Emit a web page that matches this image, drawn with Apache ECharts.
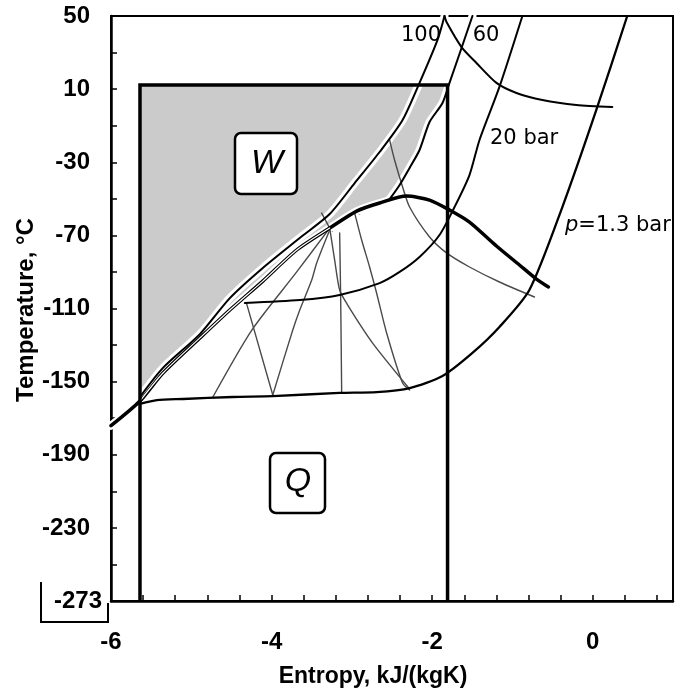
<!DOCTYPE html>
<html><head><meta charset="utf-8">
<script src="https://cdn.jsdelivr.net/npm/echarts@6/dist/echarts.min.js"></script>
<style>html,body{margin:0;padding:0;background:#fff}#c{width:675px;height:695px}</style>
</head><body><div id="c"></div>
<script>
// ---- data (entropy s in kJ/(kgK), temperature T in °C) ----
const satS = [-6.0, -5.639, -5.353, -4.893, -4.520, -4.109, -3.687, -3.276, -2.940, -2.654, -2.318, -2.032, -1.784, -1.535, -1.199, -0.913, -0.701, -0.552];
const satT = [-174.1, -160.6, -145.3, -126.1, -110.8, -95.0, -78.0, -66.0, -56.7, -52.3, -48.5, -50.7, -56.1, -62.7, -75.8, -86.2, -93.9, -98.2];
const p100S = [-1.846, -1.933, -2.157, -2.368, -2.654, -2.965, -3.276, -3.649, -4.109, -4.520, -4.893, -5.353, -5.639];
const p100T = [50, 36.9, 13.4, -6.9, -24.4, -41.4, -58.3, -71.4, -87.8, -104.3, -124.0, -142.5, -158.4];
const p60S = [-1.498, -1.634, -1.784, -1.871, -2.032, -2.157, -2.281, -2.405, -2.530];
const p60T = [50, 32.5, 13.4, 2.4, -8.0, -23.3, -33.1, -42.4, -50.2];
const p20S = [-0.876, -1.162, -1.410, -1.535, -1.721, -1.908, -2.157, -2.405, -2.654, -3.152, -3.649, -4.333];
const p20T = [50, 11.2, -17.8, -37.0, -54.5, -69.8, -81.8, -90.0, -96.1, -102.6, -105.4, -107.0];
const p13S = [-5.639, -5.428, -5.104, -4.483, -3.985, -3.152, -2.692, -2.281, -1.871, -1.498, -1.162, -0.789, -0.378, 0.045, 0.430];
const p13T = [-162.2, -160.1, -159.5, -158.4, -157.9, -156.2, -155.7, -153.5, -146.9, -134.3, -120.1, -99.9, -54.5, -1.4, 50];
const hS = [-1.846, -1.821, -1.634, -1.448, -1.199, -0.950, -0.627, -0.204, 0.244];
const hT = [50, 46.7, 33.0, 24.3, 13.4, 7.9, 4.0, 1.3, 0.2];
// thin grey process lines
const g0S = [-3.376, -3.276], g0T = [-57.8, -66.0];
const g1S = [-3.276, -3.687, -4.246, -4.731], g1T = [-66.0, -90.0, -121.8, -158.4];
const g2S = [-3.276, -3.214, -3.152, -3.052, -2.741, -2.281], g2T = [-66.0, -83.5, -99.9, -108.1, -128.9, -154.0];
const g3S = [-3.152, -3.139, -3.127], g3T = [-68.7, -105.4, -155.7];
const g4S = [-2.965, -2.878, -2.779, -2.692, -2.567, -2.368, -2.281], g4T = [-57.8, -72.5, -87.3, -101.5, -123.4, -150.8, -154.6];
const g5S = [-4.31, -3.985], g5T = [-107.5, -157.3];
const g6S = [-3.985, -3.736, -3.649, -3.500, -3.438, -3.276], g6T = [-157.3, -121.8, -110.8, -94.4, -85.1, -67.1];
const gcS = [-2.530, -2.468, -2.368, -2.281, -2.032, -1.821, -1.535, -1.162, -0.726], gcT = [-17.8, -28.8, -43.5, -54.5, -70.9, -79.6, -87.3, -95.5, -103.7];
// cycle rectangle
const rectS = [-5.639, -5.639, -1.808, -1.808];
const rectT = [-270, 12.3, 12.3, -270];
// markers on the saturation line
const mkS = [-3.276, -2.940, -2.318];
const mkT = [-66.0, -56.7, -48.5];
const mkSym = ['triangle', 'triangle', 'rect'];
// axes
const xMin = -6, xMax = 1, xStep = 0.4;
const xLabelVals = [-6, -4, -2, 0];
const yMin = -270, yMax = 50, yStep = 20;
const yLabelVals = [50, 10, -30, -70, -110, -150, -190, -230];
const yBottomLabel = '-273';

const zip = (a, b) => a.map((v, i) => [v, b[i]]);

// gray W region: rectangle top, 60 bar isobar down to the dome, liquid line back down
const wPoly = [[rectS[1], rectT[1]], [rectS[2], rectT[2]]]
  .concat(zip(p60S, p60T).slice(3))
  .concat(zip(satS, satT).slice(1, 10).reverse());

const chart = echarts.init(document.getElementById('c'), null, {renderer: 'canvas'});
const lineS = (d, color, width, extra) => Object.assign({
  type: 'line', data: d, symbol: 'none', silent: true, animation: false, smooth: 0.25,
  lineStyle: {color: color, width: width, cap: 'round', join: 'round'}
}, extra || {});
const greyC = '#4a4a4a', greyW = 1.4;

chart.setOption({
  animation: false,
  grid: {left: 111, top: 16, right: 2, bottom: 94, show: true, borderColor: '#000', borderWidth: 2},
  xAxis: {
    type: 'value', min: xMin, max: xMax, interval: xStep,
    axisLine: {onZero: false, lineStyle: {color: '#000', width: 2.5}},
    axisTick: {inside: true, length: 6, lineStyle: {color: '#000', width: 1.5}},
    splitLine: {show: false},
    axisLabel: {
      margin: 29, color: '#000', fontFamily: 'Liberation Sans', fontWeight: 'bold', fontSize: 24,
      showMaxLabel: false,
      formatter: v => xLabelVals.some(x => Math.abs(x - v) < 1e-6) ? String(Math.round(v)) : ''
    }
  },
  yAxis: {
    type: 'value', min: yMin, max: yMax, interval: yStep,
    axisLine: {onZero: false, lineStyle: {color: '#000', width: 2.5}},
    axisTick: {inside: true, length: 6, lineStyle: {color: '#000', width: 1.5}},
    splitLine: {show: false},
    axisLabel: {
      margin: 21, color: '#000', fontFamily: 'Liberation Sans', fontWeight: 'bold', fontSize: 24,
      formatter: v => yLabelVals.indexOf(Math.round(v)) >= 0 ? String(Math.round(v)) : ''
    }
  },
  series: [
    {
      type: 'custom', silent: true, animation: false, data: [0],
      renderItem: (params, api) => ({
        type: 'polygon', shape: {points: wPoly.map(p => api.coord(p)), smooth: 0},
        style: {fill: '#cbcbcb', stroke: null}
      })
    },
    lineS(zip(p100S, p100T), '#fff', 8),
    lineS(zip(p60S, p60T), '#fff', 8),
    lineS(zip(satS, satT).slice(0, 12), '#fff', 8),
    lineS(zip(g0S, g0T), greyC, greyW),
    lineS(zip(g1S, g1T), greyC, greyW),
    lineS(zip(g2S, g2T), greyC, greyW),
    lineS(zip(g3S, g3T), greyC, greyW),
    lineS(zip(g4S, g4T), greyC, greyW),
    lineS(zip(g5S, g5T), greyC, greyW),
    lineS(zip(g6S, g6T), greyC, greyW),
    lineS(zip(gcS, gcT), greyC, greyW),
    lineS(zip(p100S, p100T), '#000', 2),
    lineS(zip(p60S, p60T), '#000', 2),
    lineS(zip(p20S, p20T), '#000', 2),
    lineS(zip(p13S, p13T), '#000', 2.3),
    lineS(zip(hS, hT), '#000', 2),
    lineS(zip(satS, satT), '#000', 3.5),
    lineS(zip(satS, satT).slice(1, 8), '#fff', 1.2),
    lineS(zip(rectS, rectT), '#000', 3.5, {smooth: false, lineStyle: {color: '#000', width: 3.5, cap: 'butt', join: 'miter'}}),
    {
      type: 'scatter', silent: true, animation: false, symbolSize: 7,
      itemStyle: {color: '#000'},
      data: mkS.map((s, i) => ({value: [s, mkT[i]], symbol: mkSym[i]}))
    }
  ],
  graphic: [
    {type: 'rect', shape: {x: 235, y: 133, width: 62, height: 61, r: 6}, style: {fill: '#fff', stroke: '#000', lineWidth: 2.5}, z: 100},
    {type: 'text', x: 267, y: 164, z: 101, style: {text: 'W', font: 'italic 34px "Liberation Sans"', fill: '#000', align: 'center', verticalAlign: 'middle'}},
    {type: 'rect', shape: {x: 270, y: 453, width: 55, height: 60, r: 6}, style: {fill: '#fff', stroke: '#000', lineWidth: 2.5}, z: 100},
    {type: 'text', x: 298, y: 482, z: 101, style: {text: 'Q', font: 'italic 34px "Liberation Sans"', fill: '#000', align: 'center', verticalAlign: 'middle'}},
    {type: 'text', x: 421, y: 36, z: 101, style: {text: '100', font: '21px "DejaVu Sans"', fill: '#000', align: 'center', verticalAlign: 'middle'}},
    {type: 'text', x: 486, y: 36, z: 101, style: {text: '60', font: '21px "DejaVu Sans"', fill: '#000', align: 'center', verticalAlign: 'middle'}},
    {type: 'text', x: 490, y: 139, z: 101, style: {text: '20 bar', font: '21px "DejaVu Sans"', fill: '#000', align: 'left', verticalAlign: 'middle'}},
    {type: 'text', x: 565, y: 226, z: 101, style: {
      text: '{i|p}=1.3 bar', font: '21px "DejaVu Sans"', fill: '#000', align: 'left', verticalAlign: 'middle',
      rich: {i: {font: 'italic 21px "DejaVu Sans"', fill: '#000'}}
    }},
    {type: 'text', x: 26, y: 310, rotation: Math.PI / 2, z: 101, style: {text: 'Temperature, °C', font: 'bold 24px "Liberation Sans"', fill: '#000', align: 'center', verticalAlign: 'middle'}},
    {type: 'text', x: 373, y: 677, z: 101, style: {text: 'Entropy, kJ/(kgK)', font: 'bold 23px "Liberation Sans"', fill: '#000', align: 'center', verticalAlign: 'middle'}},
    {type: 'text', x: 102, y: 601, z: 101, style: {text: yBottomLabel, font: 'bold 24px "Liberation Sans"', fill: '#000', align: 'right', verticalAlign: 'middle'}},
    {type: 'polyline', z: 101, shape: {points: [[41, 582], [41, 622], [108, 622], [108, 603]]}, style: {stroke: '#000', lineWidth: 2, fill: null}}
  ]
});
</script></body></html>
